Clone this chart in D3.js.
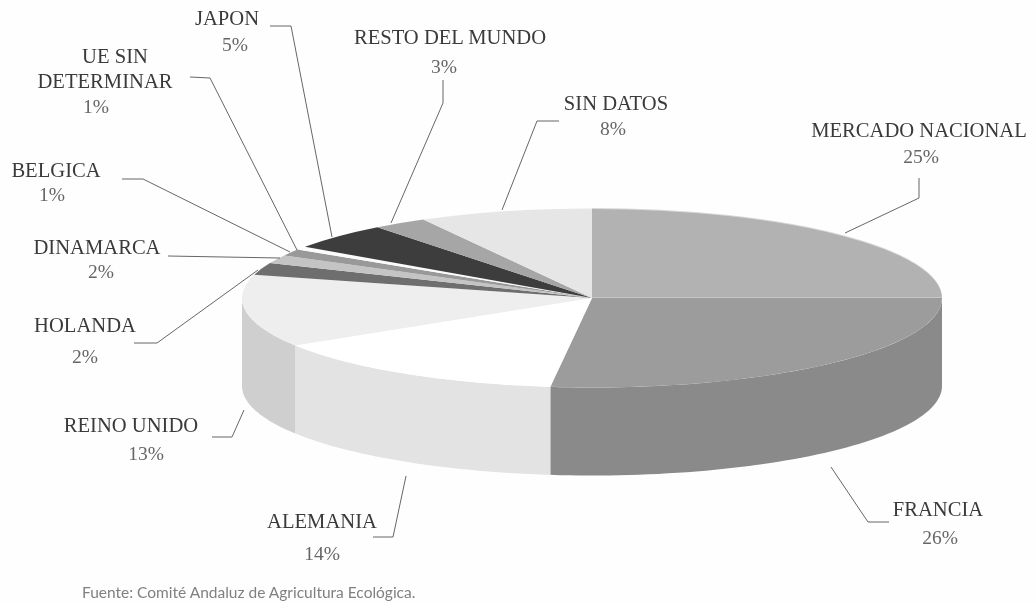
<!DOCTYPE html>
<html>
<head>
<meta charset="utf-8">
<script src="https://cdn.jsdelivr.net/npm/d3@7"></script>
<style>
  html, body { margin: 0; padding: 0; background: #fefefe; }
  svg { display: block; }
</style>
</head>
<body>
<div id="chart"></div>
<script>
// Values, clockwise from the top of the pie.
// The slices as drawn do not quite agree with the printed percentages, so both are kept.
const categories = ["MERCADO NACIONAL", "FRANCIA", "ALEMANIA", "REINO UNIDO", "HOLANDA", "DINAMARCA",
    "BELGICA", "UE SIN DETERMINAR", "JAPON", "RESTO DEL MUNDO", "SIN DATOS"];
const shares = [25, 26.9, 14.2, 13.1, 2.2, 1.5, 1.2, 0.6, 4.8, 2.5, 8];
const printedPct = [25, 26, 14, 13, 2, 2, 1, 1, 5, 3, 8];
const source = "Fuente: Comité Andaluz de Agricultura Ecológica.";

const topColors = ["#b2b2b2", "#9c9c9c", "#ffffff", "#eeeeee", "#6e6e6e", "#c4c4c4",
    "#999999", "#fbfbfb", "#3d3d3d", "#a6a6a6", "#e6e6e6"];
const sideColors = ["#a0a0a0", "#8a8a8a", "#e3e3e3", "#cfcfcf", "#5e5e5e", "#b0b0b0",
    "#888888", "#e0e0e0", "#303030", "#909090", "#d0d0d0"];

// Label placement: lines of name text [x, baseline], percent [x, baseline], leader line
const labelLayout = [
    { name: [[919, 137]], pct: [921, 163], leader: [[919, 178], [919, 198], [845, 233]] },
    { name: [[938, 516]], pct: [940, 544], leader: [[831, 467], [868, 522], [889, 522]] },
    { name: [[322, 528]], pct: [322, 560], leader: [[373, 537], [393, 537], [406, 476]] },
    { name: [[131, 432]], pct: [146, 460], leader: [[212, 437], [232, 437], [244, 410]] },
    { name: [[85, 332]], pct: [85, 363], leader: [[134, 343], [157, 343], [258, 270]] },
    { name: [[97, 254]], pct: [101, 278], leader: [[168, 256], [280, 258]] },
    { name: [[56, 177]], pct: [52, 201], leader: [[122, 179], [143, 179], [290, 252]] },
    { name: [[115, 63], [105, 88]], pct: [96, 113], leader: [[190, 77], [210, 78], [297, 250]] },
    { name: [[227, 25]], pct: [235, 51], leader: [[270, 26], [291, 26], [332, 237]] },
    { name: [[450, 44]], pct: [444, 73], leader: [[443, 80], [443, 103], [391, 223]] },
    { name: [[616, 110]], pct: [613, 135], leader: [[559, 121], [537, 121], [502, 210]] }
];

const width = 1036;
const height = 605;
const cx = 592, cy = 298, rx = 350, ry = 89.5, depth = 88;

const svg = d3.select("#chart")
    .append("svg")
    .attr("width", width)
    .attr("height", height);

const defs = svg.append("defs");
defs.append("filter").attr("id", "soft")
    .append("feGaussianBlur").attr("stdDeviation", 0.6);

const pie = d3.pie().sort(null).value(d => d);
const slices = pie(shares);

// Unit circle scales, squashed into the ellipse of the pie
const xScale = d3.scaleLinear().domain([-1, 1]).range([cx - rx, cx + rx]);
const yScale = d3.scaleLinear().domain([-1, 1]).range([cy - ry, cy + ry]);

const pieGroup = svg.append("g").attr("filter", "url(#soft)");

// Walls: only the front half of the rim can be seen
const wall = d3.area()
    .x(a => xScale(Math.sin(a)))
    .y0(a => yScale(-Math.cos(a)))
    .y1(a => yScale(-Math.cos(a)) + depth);

pieGroup.selectAll("path.wall")
    .data(slices.filter(d => d.endAngle > Math.PI / 2 && d.startAngle < 3 * Math.PI / 2))
    .enter()
    .append("path")
    .attr("class", "wall")
    .attr("fill", d => sideColors[d.index])
    .attr("d", d => {
        const a0 = Math.max(d.startAngle, Math.PI / 2);
        const a1 = Math.min(d.endAngle, 3 * Math.PI / 2);
        return wall(d3.range(0, 61).map(i => a0 + (a1 - a0) * i / 60));
    });

// Top face
const arc = d3.arc().innerRadius(0).outerRadius(1);

pieGroup.selectAll("path.top")
    .data(slices)
    .enter()
    .append("path")
    .attr("class", "top")
    .attr("fill", d => topColors[d.index])
    .attr("transform", `translate(${cx},${cy}) scale(${rx},${ry})`)
    .attr("d", arc);

// Leader lines
const leaderLine = d3.line();

svg.selectAll("path.leader")
    .data(labelLayout)
    .enter()
    .append("path")
    .attr("class", "leader")
    .attr("fill", "none")
    .attr("stroke", "#555")
    .attr("stroke-width", 0.9)
    .attr("d", d => leaderLine(d.leader));

// Labels
const serif = "'Liberation Serif', serif";
const nameLines = i => i === 7 ? ["UE SIN", "DETERMINAR"] : [categories[i]];

labelLayout.forEach((d, i) => {
    nameLines(i).forEach((line, j) => {
        svg.append("text")
            .attr("x", d.name[j][0])
            .attr("y", d.name[j][1])
            .attr("text-anchor", "middle")
            .attr("font-family", serif)
            .attr("font-size", 20.6)
            .attr("fill", "#3a3a3a")
            .text(line);
    });
    svg.append("text")
        .attr("x", d.pct[0])
        .attr("y", d.pct[1])
        .attr("text-anchor", "middle")
        .attr("font-family", serif)
        .attr("font-size", 19.5)
        .attr("fill", "#666")
        .text(printedPct[i] + "%");
});

svg.append("text")
    .attr("x", 82)
    .attr("y", 598)
    .attr("font-family", "Lato, sans-serif")
    .attr("font-size", 15.5)
    .attr("fill", "#808080")
    .text(source);
</script>
</body>
</html>
